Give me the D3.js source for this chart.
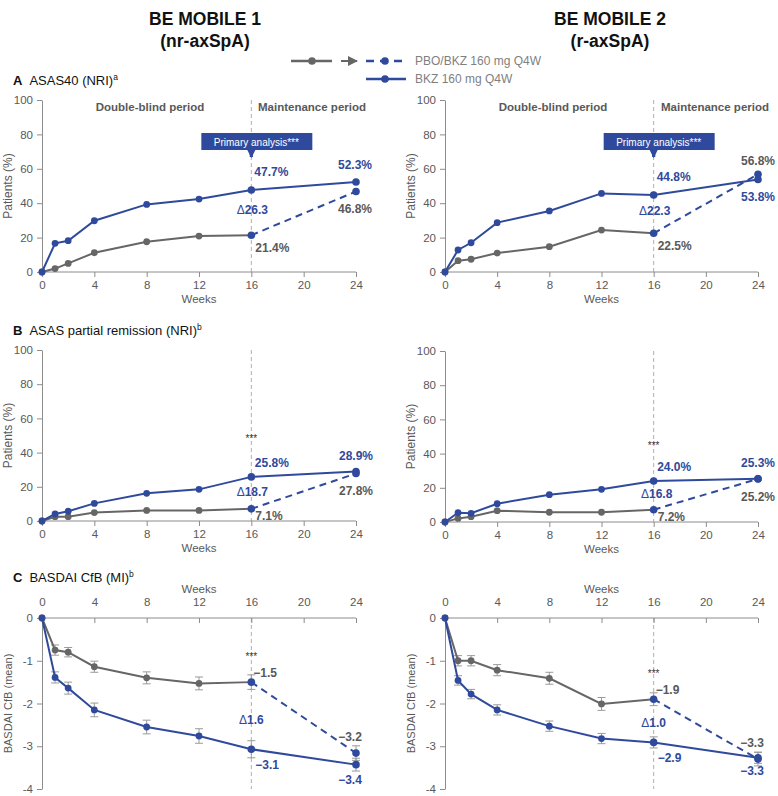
<!DOCTYPE html>
<html><head><meta charset="utf-8">
<script src="https://cdn.jsdelivr.net/npm/d3@7"></script>
<style>
body{margin:0;background:#fff;}
svg{display:block;font-family:"Liberation Sans",Arial,sans-serif;}
</style></head>
<body>
<svg id="chart" width="778" height="796"></svg>
<script>
// ---------- DATA ----------
const weeks = [0, 1, 2, 4, 8, 12, 16, 24];
const xTicks = [0, 4, 8, 12, 16, 20, 24];
const pctTicks = [0, 20, 40, 60, 80, 100];
const cfbTicks = [0, -1, -2, -3, -4];
const studies = ["BE MOBILE 1", "BE MOBILE 2"];
const populations = ["(nr-axSpA)", "(r-axSpA)"];
const seriesNames = ["PBO/BKZ 160 mg Q4W", "BKZ 160 mg Q4W"];

// ASAS40 (NRI), % patients; PBO last value = after switch to BKZ at week 24
const asas40M1Bkz = [0, 16.7, 18.2, 29.8, 39.3, 42.4, 47.7, 52.3];
const asas40M1Pbo = [0, 2.0, 5.0, 11.2, 17.6, 20.9, 21.4, 46.8];
const asas40M2Bkz = [0, 12.8, 17.0, 28.7, 35.5, 45.7, 44.8, 53.8];
const asas40M2Pbo = [0, 6.6, 7.4, 11.0, 14.7, 24.4, 22.5, 56.8];

// ASAS partial remission (NRI), %
const aspM1Bkz = [0, 4.1, 5.7, 10.3, 16.2, 18.5, 25.8, 28.9];
const aspM1Pbo = [0, 2.5, 2.5, 4.9, 6.2, 6.2, 7.1, 27.8];
const aspM2Bkz = [0, 5.4, 5.1, 10.7, 16.0, 19.1, 24.0, 25.3];
const aspM2Pbo = [0, 2.1, 3.1, 6.6, 5.7, 5.7, 7.2, 25.2];

// BASDAI CfB (MI), mean and SE
const basM1Bkz = [0, -1.39, -1.64, -2.15, -2.55, -2.76, -3.07, -3.43];
const basM1BkzSe = [0, 0.13, 0.14, 0.16, 0.16, 0.17, 0.20, 0.15];
const basM1Pbo = [0, -0.75, -0.80, -1.14, -1.40, -1.53, -1.50, -3.16];
const basM1PboSe = [0, 0.12, 0.11, 0.13, 0.14, 0.15, 0.17, 0.17];
const basM2Bkz = [0, -1.46, -1.78, -2.15, -2.53, -2.82, -2.91, -3.27];
const basM2BkzSe = [0, 0.11, 0.11, 0.12, 0.12, 0.12, 0.13, 0.13];
const basM2Pbo = [0, -1.00, -1.00, -1.22, -1.41, -2.01, -1.90, -3.30];
const basM2PboSe = [0, 0.12, 0.12, 0.13, 0.14, 0.15, 0.15, 0.16];

// annotation texts
const asas40Labels = [
  {bkz16:"47.7%", pbo16:"21.4%", delta:"26.3", bkz24:"52.3%", pbo24:"46.8%"},
  {bkz16:"44.8%", pbo16:"22.5%", delta:"22.3", bkz24:"53.8%", pbo24:"56.8%"}
];
const aspLabels = [
  {bkz16:"25.8%", pbo16:"7.1%", delta:"18.7", bkz24:"28.9%", pbo24:"27.8%"},
  {bkz16:"24.0%", pbo16:"7.2%", delta:"16.8", bkz24:"25.3%", pbo24:"25.2%"}
];
const basLabels = [
  {bkz16:"−3.1", pbo16:"−1.5", delta:"1.6", bkz24:"−3.4", pbo24:"−3.2"},
  {bkz16:"−2.9", pbo16:"−1.9", delta:"1.0", bkz24:"−3.3", pbo24:"−3.3"}
];

// ---------- STYLE ----------
const BLUE = "#2f4a9c", GRAY = "#666666", TXT = "#595959", AX = "#8c8c8c", VL = "#b0b0b0";
const svg = d3.select("#chart");

// headers
studies.forEach((s, i) => {
  const cx = i === 0 ? 205 : 610;
  svg.append("text").attr("x", cx).attr("y", 25).attr("text-anchor", "middle")
    .attr("font-size", 17.5).attr("font-weight", "bold").attr("fill", "#111").text(s);
  svg.append("text").attr("x", cx).attr("y", 47).attr("text-anchor", "middle")
    .attr("font-size", 17.5).attr("font-weight", "bold").attr("fill", "#111").text(populations[i]);
});

// legend
const defs = svg.append("defs");
defs.append("marker").attr("id", "legArrow").attr("viewBox", "0 0 10 10").attr("refX", 9).attr("refY", 5)
  .attr("markerWidth", 5).attr("markerHeight", 5).attr("orient", "auto")
  .append("path").attr("d", "M0,0 L10,5 L0,10 z").attr("fill", GRAY);
defs.append("marker").attr("id", "blueArrow").attr("viewBox", "0 0 10 10").attr("refX", 5).attr("refY", 9)
  .attr("markerWidth", 3.2).attr("markerHeight", 3.2).attr("orient", 0)
  .append("path").attr("d", "M0,0 L10,0 L5,10 z").attr("fill", BLUE);

const lg = svg.append("g");
lg.append("line").attr("x1", 291).attr("x2", 332).attr("y1", 61).attr("y2", 61).attr("stroke", GRAY).attr("stroke-width", 2.5);
lg.append("circle").attr("cx", 312).attr("cy", 61).attr("r", 3.8).attr("fill", GRAY);
lg.append("line").attr("x1", 341).attr("x2", 357).attr("y1", 61).attr("y2", 61).attr("stroke", GRAY).attr("stroke-width", 2).attr("marker-end", "url(#legArrow)");
lg.append("line").attr("x1", 366).attr("x2", 406).attr("y1", 61).attr("y2", 61).attr("stroke", BLUE).attr("stroke-width", 2.5).attr("stroke-dasharray", "8,6");
lg.append("circle").attr("cx", 385).attr("cy", 61).attr("r", 3.8).attr("fill", BLUE);
lg.append("text").attr("x", 415).attr("y", 65).attr("font-size", 12).attr("fill", "#7f7f7f").text(seriesNames[0]);
lg.append("line").attr("x1", 366).attr("x2", 406).attr("y1", 79).attr("y2", 79).attr("stroke", BLUE).attr("stroke-width", 2.5);
lg.append("circle").attr("cx", 385).attr("cy", 79).attr("r", 3.8).attr("fill", BLUE);
lg.append("text").attr("x", 415).attr("y", 83).attr("font-size", 12).attr("fill", "#7f7f7f").text(seriesNames[1]);

// panel titles
function panelTitle(letter, text, sup, y) {
  const t = svg.append("text").attr("x", 13).attr("y", y).attr("font-size", 13).attr("fill", "#111");
  t.append("tspan").attr("font-weight", "bold").text(letter);
  t.append("tspan").attr("dx", 7).text(text);
  t.append("tspan").attr("font-size", 8.5).attr("dy", -5).text(sup);
}
panelTitle("A", "ASAS40 (NRI)", "a", 85);
panelTitle("B", "ASAS partial remission (NRI)", "b", 335);
panelTitle("C", "BASDAI CfB (MI)", "b", 582);

const xRanges = [[42, 356], [445, 758]];

function drawPanel(opts) {
  const {xr, yDomain, yRange, bkz, pbo, bkzSe, pboSe, ticks, yLabel, top} = opts;
  const x = d3.scaleLinear().domain([0, 24]).range(xr);
  const y = d3.scaleLinear().domain(yDomain).range(yRange);
  const g = svg.append("g");
  const x0 = xr[0];

  g.append("line").attr("x1", x(16)).attr("x2", x(16))
    .attr("y1", Math.min(...yRange)).attr("y2", Math.max(...yRange))
    .attr("stroke", VL).attr("stroke-width", 1).attr("stroke-dasharray", "4,3");

  const ya = g.append("g").attr("transform", `translate(${x0},0)`)
    .call(d3.axisLeft(y).tickValues(ticks).tickSize(5).tickSizeOuter(0).tickFormat(d => d < 0 ? "-" + Math.abs(d) : d));
  ya.select(".domain").attr("stroke", AX);
  ya.selectAll(".tick line").attr("stroke", AX);
  ya.selectAll(".tick text").attr("fill", TXT).attr("font-size", 11.5).attr("font-family", "Liberation Sans, Arial, sans-serif").attr("dx", -1);

  const xa = g.append("g");
  if (!top) {
    xa.attr("transform", `translate(0,${y(0)})`).call(d3.axisBottom(x).tickValues(xTicks).tickSize(5).tickSizeOuter(0));
  } else {
    xa.attr("transform", `translate(0,${y(0)})`).call(d3.axisTop(x).tickValues(xTicks).tickSize(-5).tickSizeOuter(0));
    xa.selectAll(".tick text").attr("dy", -9);
  }
  xa.select(".domain").attr("stroke", AX).attr("d", `M${xr[0]},0H${xr[1]}`);
  xa.selectAll(".tick line").attr("stroke", AX);
  xa.selectAll(".tick text").attr("fill", TXT).attr("font-size", 11.5).attr("font-family", "Liberation Sans, Arial, sans-serif");
  if (!top) xa.selectAll(".tick text").attr("y", 9);

  const xMid = (xr[0] + xr[1]) / 2;
  g.append("text").attr("x", xMid).attr("y", top ? y(0) - 25 : y(0) + 31).attr("text-anchor", "middle")
    .attr("font-size", 11.5).attr("fill", TXT).text("Weeks");

  const yc = (yRange[0] + yRange[1]) / 2;
  g.append("text").attr("transform", `translate(${x0 - 30},${yc}) rotate(-90)`).attr("text-anchor", "middle")
    .attr("font-size", top ? 11 : 12).attr("fill", TXT).text(yLabel);

  const pts = weeks.map((w, i) => ({w, b: bkz[i], p: pbo[i], bs: bkzSe ? bkzSe[i] : 0, ps: pboSe ? pboSe[i] : 0}));
  const line = d3.line().x(d => x(d.w)).y(d => y(d.v));

  if (bkzSe) {
    const eb = g.append("g").attr("stroke", "#9a9a9a").attr("stroke-width", 1);
    pts.slice(1).forEach(d => {
      [[d.b, d.bs], [d.p, d.ps]].forEach(([v, s]) => {
        eb.append("line").attr("x1", x(d.w)).attr("x2", x(d.w)).attr("y1", y(v - s)).attr("y2", y(v + s));
        eb.append("line").attr("x1", x(d.w) - 4).attr("x2", x(d.w) + 4).attr("y1", y(v - s)).attr("y2", y(v - s));
        eb.append("line").attr("x1", x(d.w) - 4).attr("x2", x(d.w) + 4).attr("y1", y(v + s)).attr("y2", y(v + s));
      });
    });
  }

  const pboDB = pts.filter(d => d.w <= 16).map(d => ({w: d.w, v: d.p}));
  const pboSw = pts.filter(d => d.w >= 16).map(d => ({w: d.w, v: d.p}));
  const bkzAll = pts.map(d => ({w: d.w, v: d.b}));

  g.append("path").attr("d", line(pboDB)).attr("fill", "none").attr("stroke", GRAY).attr("stroke-width", 2);
  g.append("path").attr("d", line(pboSw)).attr("fill", "none").attr("stroke", BLUE).attr("stroke-width", 2).attr("stroke-dasharray", "7,5");
  g.append("path").attr("d", line(bkzAll)).attr("fill", "none").attr("stroke", BLUE).attr("stroke-width", 2);

  pboDB.forEach(d => g.append("circle").attr("cx", x(d.w)).attr("cy", y(d.v)).attr("r", d.w === 16 ? 3.8 : 3.4).attr("fill", d.w === 16 ? BLUE : GRAY));
  g.append("circle").attr("cx", x(24)).attr("cy", y(pboSw[pboSw.length - 1].v)).attr("r", 3.8).attr("fill", BLUE);
  bkzAll.forEach(d => g.append("circle").attr("cx", x(d.w)).attr("cy", y(d.v)).attr("r", d.w >= 16 ? 3.8 : 3.4).attr("fill", BLUE));

  return {x, y, g};
}

function lbl(g, xp, yp, txt, color, anchor, size) {
  g.append("text").attr("x", xp).attr("y", yp).attr("text-anchor", anchor || "start")
    .attr("font-size", size || 12).attr("font-weight", "bold").attr("fill", color).text(txt);
}
function deltaLbl(g, xp, yp, txt) {
  const t = g.append("text").attr("x", xp).attr("y", yp).attr("text-anchor", "middle")
    .attr("font-size", 12).attr("fill", BLUE);
  t.append("tspan").attr("font-weight", "normal").text("Δ");
  t.append("tspan").attr("font-weight", "bold").text(txt);
}
function stars(g, xp, yp) {
  g.append("text").attr("x", xp).attr("y", yp).attr("text-anchor", "middle").attr("font-size", 10).attr("fill", "#333").text("***");
}

// ---------- Panel A ----------
[[asas40M1Bkz, asas40M1Pbo], [asas40M2Bkz, asas40M2Pbo]].forEach(([b, p], i) => {
  const {x, y, g} = drawPanel({xr: xRanges[i], yDomain: [0, 100], yRange: [272, 100], bkz: b, pbo: p,
    ticks: pctTicks, yLabel: "Patients (%)", top: false});
  const L = asas40Labels[i];
  g.append("text").attr("x", i === 0 ? 150 : 553).attr("y", 111).attr("text-anchor", "middle").attr("font-size", 11.5)
    .attr("font-weight", "bold").attr("fill", TXT).text("Double-blind period");
  g.append("text").attr("x", i === 0 ? 312 : 715).attr("y", 111).attr("text-anchor", "middle").attr("font-size", 11.5)
    .attr("font-weight", "bold").attr("fill", TXT).text("Maintenance period");
  g.append("rect").attr("x", x(16) - 50).attr("y", 133).attr("width", 111).attr("height", 17).attr("fill", BLUE);
  g.append("text").attr("x", x(16) + 5).attr("y", 145.5).attr("text-anchor", "middle").attr("font-size", 10)
    .attr("fill", "#fff").text("Primary analysis***");
  g.append("line").attr("x1", x(16)).attr("x2", x(16)).attr("y1", 150).attr("y2", 157).attr("stroke", BLUE)
    .attr("stroke-width", 3.2).attr("marker-end", "url(#blueArrow)");
  const b16 = y(b[6]), p16 = y(p[6]), mid = (b16 + p16) / 2;
  lbl(g, x(16) + 3, b16 - 14, L.bkz16, BLUE);
  lbl(g, x(16) + 4, p16 + 17, L.pbo16, TXT);
  deltaLbl(g, x(16) + 1, mid + 1, L.delta);
  if (i === 0) {
    lbl(g, x(24) - 1, y(b[7]) - 13, L.bkz24, BLUE, "middle");
    lbl(g, x(24) - 1, y(p[7]) + 21.5, L.pbo24, TXT, "middle");
  } else {
    lbl(g, x(24), y(p[7]) - 9, L.pbo24, TXT, "middle");
    lbl(g, x(24), y(b[7]) + 22, L.bkz24, BLUE, "middle");
  }
});

// ---------- Panel B ----------
[[aspM1Bkz, aspM1Pbo, [521, 350]], [aspM2Bkz, aspM2Pbo, [522, 351]]].forEach(([b, p, yr], i) => {
  const {x, y, g} = drawPanel({xr: xRanges[i], yDomain: [0, 100], yRange: yr, bkz: b, pbo: p,
    ticks: pctTicks, yLabel: "Patients (%)", top: false});
  const L = aspLabels[i];
  const b16 = y(b[6]), p16 = y(p[6]), mid = (b16 + p16) / 2;
  stars(g, x(16), i === 0 ? 442 : 449);
  lbl(g, x(16) + 3.5, b16 - 9.5, L.bkz16, BLUE);
  lbl(g, x(16) + 4, p16 + 11, L.pbo16, TXT);
  deltaLbl(g, x(16) + (i === 0 ? 1 : 3), mid + 3, L.delta);
  lbl(g, x(24), y(b[7]) - 12, L.bkz24, BLUE, "middle");
  lbl(g, x(24), y(p[7]) + 22, L.pbo24, TXT, "middle");
});

// ---------- Panel C ----------
[[basM1Bkz, basM1BkzSe, basM1Pbo, basM1PboSe], [basM2Bkz, basM2BkzSe, basM2Pbo, basM2PboSe]].forEach(([b, bs, p, ps], i) => {
  const {x, y, g} = drawPanel({xr: xRanges[i], yDomain: [-4, 0], yRange: [789, 618], bkz: b, pbo: p, bkzSe: bs, pboSe: ps,
    ticks: cfbTicks, yLabel: "BASDAI CfB (mean)", top: true});
  const L = basLabels[i];
  const b16 = y(b[6]), p16 = y(p[6]);
  stars(g, x(16), i === 0 ? 659.5 : 676.5);
  lbl(g, x(16) + 2, p16 - 5, L.pbo16, TXT);
  deltaLbl(g, x(16), i === 0 ? 724 : 726.5, L.delta);
  lbl(g, x(16) + 4, b16 + 20, L.bkz16, BLUE);
  lbl(g, x(24) - 6, y(p[7]) - 12.5, L.pbo24, TXT, "middle");
  lbl(g, x(24) - 6, y(b[7]) + (i === 0 ? 19.5 : 17), L.bkz24, BLUE, "middle");
});
</script>
</body></html>
